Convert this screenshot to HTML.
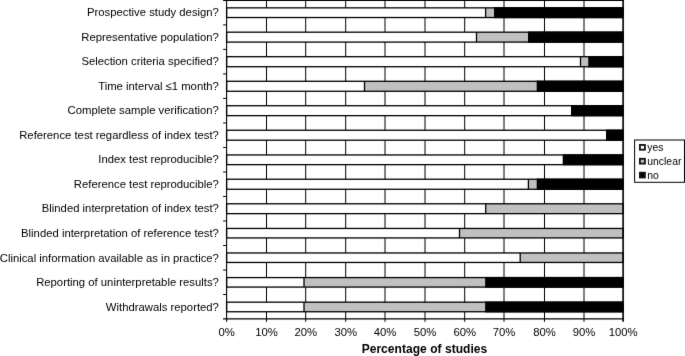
<!DOCTYPE html>
<html><head><meta charset="utf-8"><style>
html,body{margin:0;padding:0;width:685px;height:356px;overflow:hidden;background:#fff}
svg{position:absolute;left:0;top:0;display:block}
svg text{font-family:"Liberation Sans",sans-serif;fill:#000}
</style></head><body>
<svg width="685" height="356" viewBox="0 0 685 356">
<defs><filter id="b" x="0" y="0" width="685" height="356" filterUnits="userSpaceOnUse" color-interpolation-filters="sRGB"><feConvolveMatrix order="3" kernelMatrix="0.0072 0.0847 0.0072 0.0847 1 0.0847 0.0072 0.0847 0.0072" edgeMode="duplicate" preserveAlpha="true"/></filter></defs>
<g filter="url(#b)">
<rect x="0" y="0" width="685" height="356" fill="#fff"/>
<line x1="266.50" y1="0" x2="266.50" y2="321.85" stroke="#000" stroke-width="1.0"/>
<line x1="305.70" y1="0" x2="305.70" y2="321.85" stroke="#000" stroke-width="1.0"/>
<line x1="345.70" y1="0" x2="345.70" y2="321.85" stroke="#000" stroke-width="1.0"/>
<line x1="385.00" y1="0" x2="385.00" y2="321.85" stroke="#000" stroke-width="1.0"/>
<line x1="425.00" y1="0" x2="425.00" y2="321.85" stroke="#000" stroke-width="1.0"/>
<line x1="464.70" y1="0" x2="464.70" y2="321.85" stroke="#000" stroke-width="1.0"/>
<line x1="504.00" y1="0" x2="504.00" y2="321.85" stroke="#000" stroke-width="1.0"/>
<line x1="544.50" y1="0" x2="544.50" y2="321.85" stroke="#000" stroke-width="1.0"/>
<line x1="584.00" y1="0" x2="584.00" y2="321.85" stroke="#000" stroke-width="1.0"/>
<rect x="226.60" y="7.86" width="259.00" height="9.67" fill="#fff"/>
<rect x="485.60" y="7.86" width="8.40" height="9.67" fill="#c0c0c0"/>
<rect x="494.00" y="7.21" width="129.20" height="10.97" fill="#000"/>
<rect x="226.60" y="7.86" width="396.60" height="9.67" fill="none" stroke="#000" stroke-width="1.3"/>
<line x1="485.60" y1="7.86" x2="485.60" y2="17.53" stroke="#000" stroke-width="1.3"/>
<rect x="226.60" y="32.18" width="249.90" height="9.92" fill="#fff"/>
<rect x="476.50" y="32.18" width="51.50" height="9.92" fill="#c0c0c0"/>
<rect x="528.00" y="31.53" width="95.20" height="11.22" fill="#000"/>
<rect x="226.60" y="32.18" width="396.60" height="9.92" fill="none" stroke="#000" stroke-width="1.3"/>
<line x1="476.50" y1="32.18" x2="476.50" y2="42.10" stroke="#000" stroke-width="1.3"/>
<rect x="226.60" y="56.69" width="353.90" height="10.04" fill="#fff"/>
<rect x="580.50" y="56.69" width="7.70" height="10.04" fill="#c0c0c0"/>
<rect x="588.20" y="56.04" width="35.00" height="11.34" fill="#000"/>
<rect x="226.60" y="56.69" width="396.60" height="10.04" fill="none" stroke="#000" stroke-width="1.3"/>
<line x1="580.50" y1="56.69" x2="580.50" y2="66.73" stroke="#000" stroke-width="1.3"/>
<rect x="226.60" y="81.28" width="137.90" height="9.99" fill="#fff"/>
<rect x="364.50" y="81.28" width="172.10" height="9.99" fill="#c0c0c0"/>
<rect x="536.60" y="80.63" width="86.60" height="11.29" fill="#000"/>
<rect x="226.60" y="81.28" width="396.60" height="9.99" fill="none" stroke="#000" stroke-width="1.3"/>
<line x1="364.50" y1="81.28" x2="364.50" y2="91.27" stroke="#000" stroke-width="1.3"/>
<rect x="226.60" y="105.72" width="344.40" height="9.93" fill="#fff"/>
<rect x="571.00" y="105.07" width="52.20" height="11.23" fill="#000"/>
<rect x="226.60" y="105.72" width="396.60" height="9.93" fill="none" stroke="#000" stroke-width="1.3"/>
<rect x="226.60" y="130.24" width="379.40" height="9.96" fill="#fff"/>
<rect x="606.00" y="129.59" width="17.20" height="11.26" fill="#000"/>
<rect x="226.60" y="130.24" width="396.60" height="9.96" fill="none" stroke="#000" stroke-width="1.3"/>
<rect x="226.60" y="154.95" width="336.10" height="9.69" fill="#fff"/>
<rect x="562.70" y="154.30" width="60.50" height="10.99" fill="#000"/>
<rect x="226.60" y="154.95" width="396.60" height="9.69" fill="none" stroke="#000" stroke-width="1.3"/>
<rect x="226.60" y="179.24" width="301.80" height="10.02" fill="#fff"/>
<rect x="528.40" y="179.24" width="8.20" height="10.02" fill="#c0c0c0"/>
<rect x="536.60" y="178.59" width="86.60" height="11.32" fill="#000"/>
<rect x="226.60" y="179.24" width="396.60" height="10.02" fill="none" stroke="#000" stroke-width="1.3"/>
<line x1="528.40" y1="179.24" x2="528.40" y2="189.26" stroke="#000" stroke-width="1.3"/>
<rect x="226.60" y="203.78" width="259.10" height="9.86" fill="#fff"/>
<rect x="485.70" y="203.78" width="137.50" height="9.86" fill="#c0c0c0"/>
<rect x="226.60" y="203.78" width="396.60" height="9.86" fill="none" stroke="#000" stroke-width="1.3"/>
<line x1="485.70" y1="203.78" x2="485.70" y2="213.64" stroke="#000" stroke-width="1.3"/>
<rect x="226.60" y="228.45" width="232.90" height="9.48" fill="#fff"/>
<rect x="459.50" y="228.45" width="163.70" height="9.48" fill="#c0c0c0"/>
<rect x="226.60" y="228.45" width="396.60" height="9.48" fill="none" stroke="#000" stroke-width="1.3"/>
<line x1="459.50" y1="228.45" x2="459.50" y2="237.93" stroke="#000" stroke-width="1.3"/>
<rect x="226.60" y="252.96" width="293.60" height="9.5" fill="#fff"/>
<rect x="520.20" y="252.96" width="103.00" height="9.5" fill="#c0c0c0"/>
<rect x="226.60" y="252.96" width="396.60" height="9.5" fill="none" stroke="#000" stroke-width="1.3"/>
<line x1="520.20" y1="252.96" x2="520.20" y2="262.46" stroke="#000" stroke-width="1.3"/>
<rect x="226.60" y="277.58" width="77.40" height="9.5" fill="#fff"/>
<rect x="304.00" y="277.58" width="181.10" height="9.5" fill="#c0c0c0"/>
<rect x="485.10" y="276.93" width="138.10" height="10.80" fill="#000"/>
<rect x="226.60" y="277.58" width="396.60" height="9.5" fill="none" stroke="#000" stroke-width="1.3"/>
<line x1="304.00" y1="277.58" x2="304.00" y2="287.08" stroke="#000" stroke-width="1.3"/>
<rect x="226.60" y="302.17" width="77.40" height="9.58" fill="#fff"/>
<rect x="304.00" y="302.17" width="181.10" height="9.58" fill="#c0c0c0"/>
<rect x="485.10" y="301.52" width="138.10" height="10.88" fill="#000"/>
<rect x="226.60" y="302.17" width="396.60" height="9.58" fill="none" stroke="#000" stroke-width="1.3"/>
<line x1="304.00" y1="302.17" x2="304.00" y2="311.75" stroke="#000" stroke-width="1.3"/>
<line x1="226.6" y1="0" x2="226.6" y2="321.85" stroke="#000" stroke-width="1.1"/>
<line x1="623.1" y1="0" x2="623.1" y2="321.85" stroke="#000" stroke-width="1.6"/>
<line x1="223.1" y1="318.85" x2="623.9000000000001" y2="318.85" stroke="#000" stroke-width="1.2"/>
<line x1="223.1" y1="0.5" x2="623.9000000000001" y2="0.5" stroke="#000" stroke-width="1"/>
<line x1="223.1" y1="24.91" x2="226.6" y2="24.91" stroke="#000" stroke-width="1"/>
<line x1="223.1" y1="49.42" x2="226.6" y2="49.42" stroke="#000" stroke-width="1"/>
<line x1="223.1" y1="73.93" x2="226.6" y2="73.93" stroke="#000" stroke-width="1"/>
<line x1="223.1" y1="98.44" x2="226.6" y2="98.44" stroke="#000" stroke-width="1"/>
<line x1="223.1" y1="122.95" x2="226.6" y2="122.95" stroke="#000" stroke-width="1"/>
<line x1="223.1" y1="147.46" x2="226.6" y2="147.46" stroke="#000" stroke-width="1"/>
<line x1="223.1" y1="171.97" x2="226.6" y2="171.97" stroke="#000" stroke-width="1"/>
<line x1="223.1" y1="196.48" x2="226.6" y2="196.48" stroke="#000" stroke-width="1"/>
<line x1="223.1" y1="220.99" x2="226.6" y2="220.99" stroke="#000" stroke-width="1"/>
<line x1="223.1" y1="245.50" x2="226.6" y2="245.50" stroke="#000" stroke-width="1"/>
<line x1="223.1" y1="270.01" x2="226.6" y2="270.01" stroke="#000" stroke-width="1"/>
<line x1="223.1" y1="294.52" x2="226.6" y2="294.52" stroke="#000" stroke-width="1"/>
<g font-size="11.3" text-anchor="end">
<text x="218.9" y="16.15">Prospective study design?</text>
<text x="218.9" y="40.69">Representative population?</text>
<text x="218.9" y="65.23">Selection criteria specified?</text>
<text x="218.9" y="89.77">Time interval ≤1 month?</text>
<text x="218.9" y="114.31">Complete sample verification?</text>
<text x="218.9" y="138.85">Reference test regardless of index test?</text>
<text x="218.9" y="163.39">Index test reproducible?</text>
<text x="218.9" y="187.93">Reference test reproducible?</text>
<text x="218.9" y="212.47">Blinded interpretation of index test?</text>
<text x="218.9" y="237.01">Blinded interpretation of reference test?</text>
<text x="218.9" y="261.55">Clinical information available as in practice?</text>
<text x="218.9" y="286.09">Reporting of uninterpretable results?</text>
<text x="218.9" y="310.63">Withdrawals reported?</text>
</g>
<g font-size="11.3" text-anchor="middle">
<text x="226.60" y="335.8">0%</text>
<text x="266.50" y="335.8">10%</text>
<text x="305.70" y="335.8">20%</text>
<text x="345.70" y="335.8">30%</text>
<text x="385.00" y="335.8">40%</text>
<text x="425.00" y="335.8">50%</text>
<text x="464.70" y="335.8">60%</text>
<text x="504.00" y="335.8">70%</text>
<text x="544.50" y="335.8">80%</text>
<text x="584.00" y="335.8">90%</text>
<text x="623.20" y="335.8">100%</text>
</g>
<text x="424.45" y="353.1" text-anchor="middle" font-size="12" font-weight="bold" textLength="125.6" lengthAdjust="spacing">Percentage of studies</text>
<rect x="634.6" y="140.0" width="49.9" height="42.3" fill="#fff" stroke="#000" stroke-width="1"/>
<rect x="639.9" y="144.90" width="5.0" height="4.8" fill="#fff" stroke="#111" stroke-width="1.8"/>
<text x="647.3" y="150.80" font-size="10.4">yes</text>
<rect x="639.9" y="158.80" width="5.0" height="4.8" fill="#c0c0c0" stroke="#111" stroke-width="1.8"/>
<text x="647.3" y="164.85" font-size="10.4">unclear</text>
<rect x="639.9" y="172.70" width="5.0" height="4.8" fill="#000" stroke="#111" stroke-width="1.8"/>
<text x="647.3" y="178.90" font-size="10.4">no</text>
</g></svg>
</body></html>
